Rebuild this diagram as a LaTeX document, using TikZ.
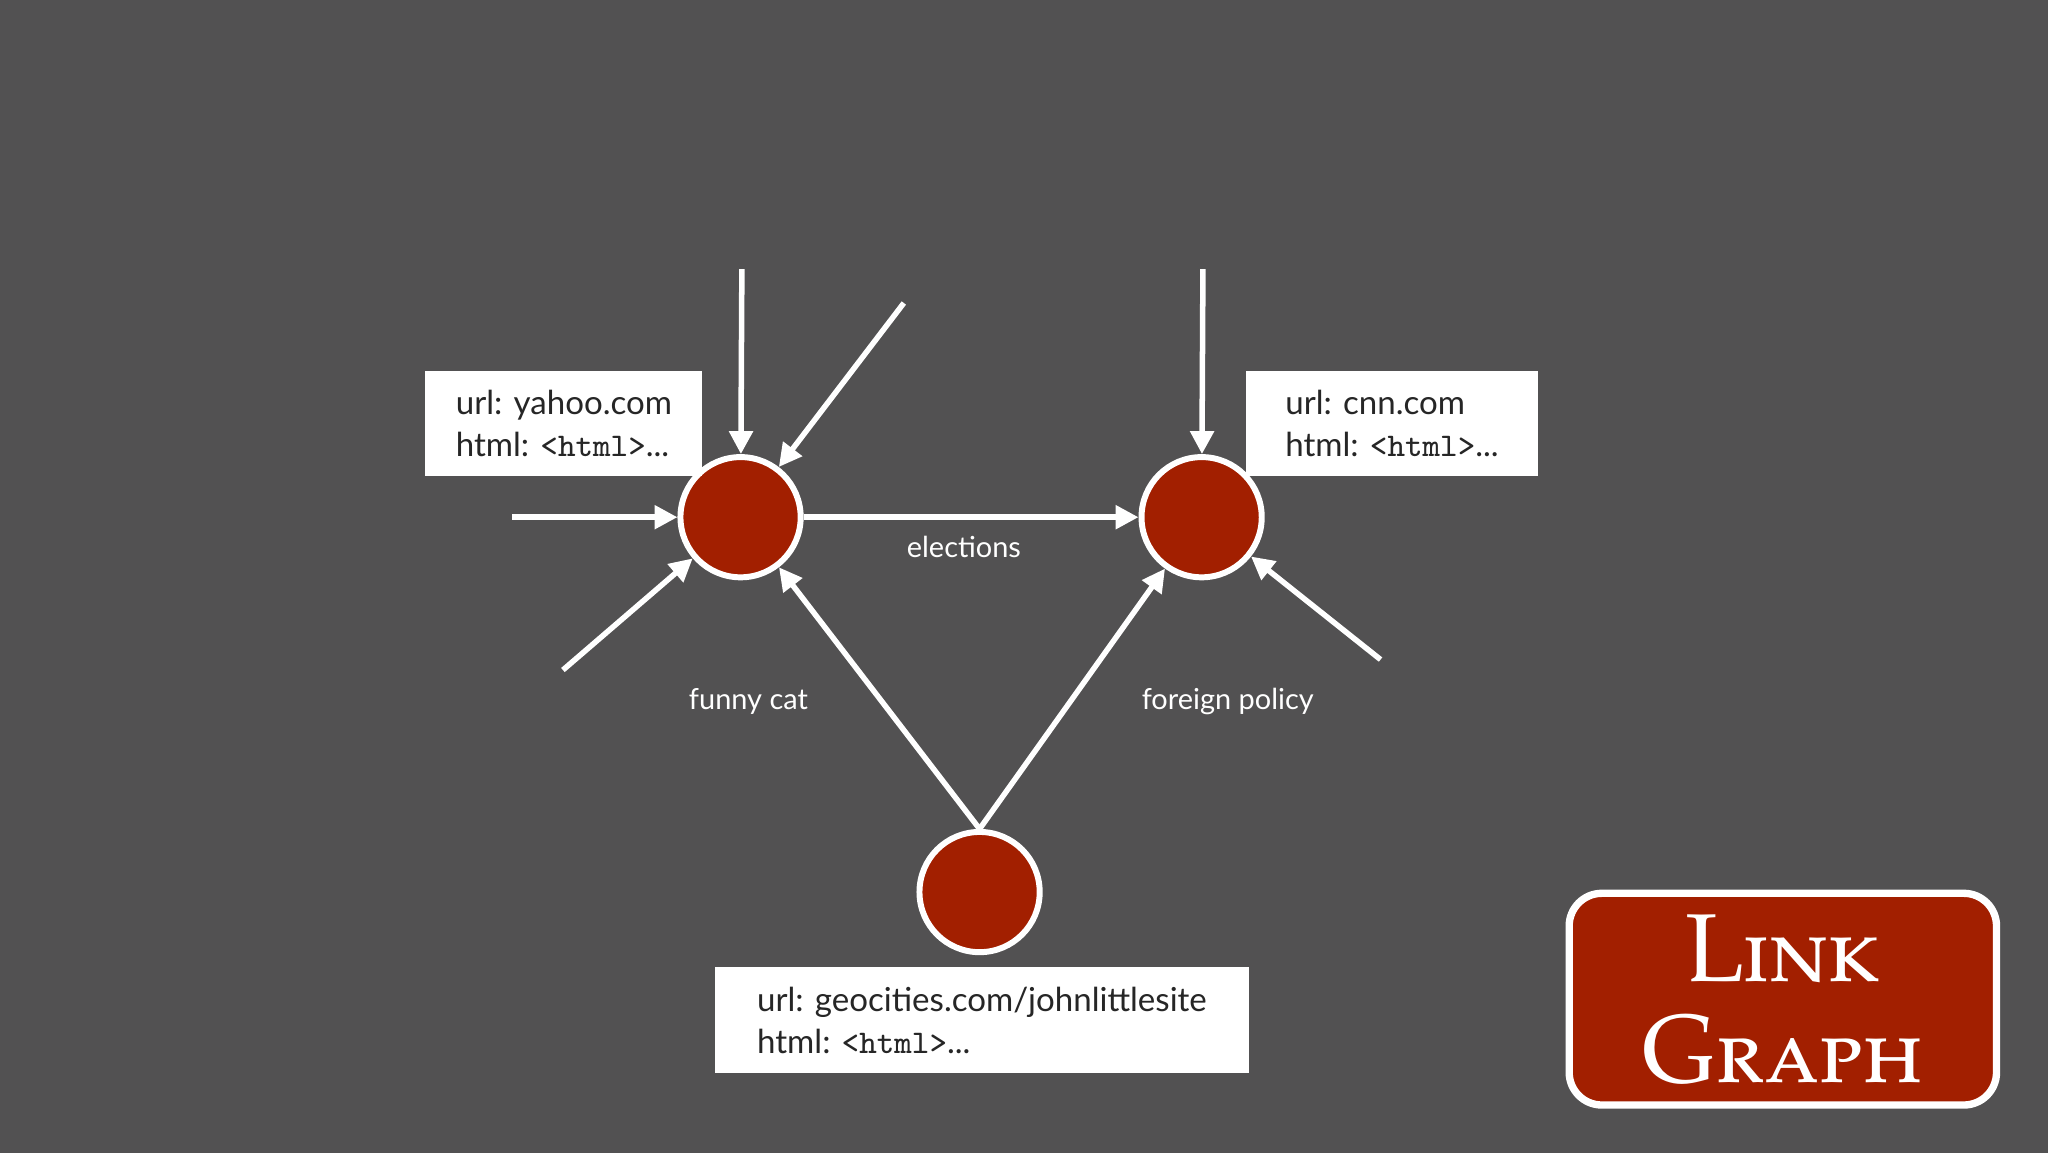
\documentclass[tikz,border=0pt]{standalone}
\usepackage{fontspec}
\setmainfont{Lato}
\usetikzlibrary{arrows.meta}
\definecolor{bg}{HTML}{525152}
\definecolor{nred}{HTML}{A21F00}
\begin{document}
\begin{tikzpicture}[x=0.01cm,y=-0.01cm,
  pg/.style={circle,fill=nred,draw=white,line width=1.3pt,minimum size=0.92cm,inner sep=0},
  info/.style={fill=white,draw=none,align=left,anchor=north west,inner xsep=0.17cm,inner ysep=0,text=black!85,font=\fontsize{7.2}{9}\selectfont,minimum height=0.81cm},
  lnk/.style={white,line width=1.2pt,-{Triangle[open,length=5pt,width=5pt,fill=white]}},
  lbl/.style={text=white,font=\fontsize{6.3}{7}\selectfont}]
\useasboundingbox[fill=bg] (0,0) rectangle (1568,883);
\node[pg] (A) at (567,396) {};
\node[pg] (B) at (920,396) {};
\node[pg] (C) at (750,683) {};
\node[info,minimum width=2.12cm] (ya) at (325,283) {url: yahoo.com\\html: {\ttfamily <html>}...};
\node[info,minimum width=2.24cm] (cn) at (953,283) {url: cnn.com\\html: {\ttfamily <html>}...};
\node[info,minimum width=4.08cm] (ge) at (547,740) {url: geocities.com/johnlittlesite\\html: {\ttfamily <html>}...};
\coordinate (a1) at (568,206);
\coordinate (a2) at (692,232);
\coordinate (a3) at (392,396);
\coordinate (a4) at (431,513);
\coordinate (b1) at (921,206);
\coordinate (b2) at (1057,505);
\draw[lnk] (a1) -- (A);
\draw[lnk] (a2) -- (A);
\draw[lnk] (a3) -- (A);
\draw[lnk] (a4) -- (A);
\draw[lnk] (b1) -- (B);
\draw[lnk] (b2) -- (B);
\draw[lnk] (A) -- (B);
\draw[lnk] (C.north) -- (A);
\draw[lnk] (C.north) -- (B);
\node[lbl] (l1) at (738,419) {elections};
\node[lbl] (l2) at (573,537) {funny cat};
\node[lbl] (l3) at (940,537) {foreign policy};
\node[draw=white,fill=nred,line width=1.6pt,rounded corners=0.25cm,minimum width=3.27cm,minimum height=1.62cm,align=center,text=white,font=\fontspec{TeX Gyre Pagella}\fontsize{21}{22}\selectfont\scshape] (lg) at (1365,765) {Link\\Graph};
\end{tikzpicture}
\end{document}
